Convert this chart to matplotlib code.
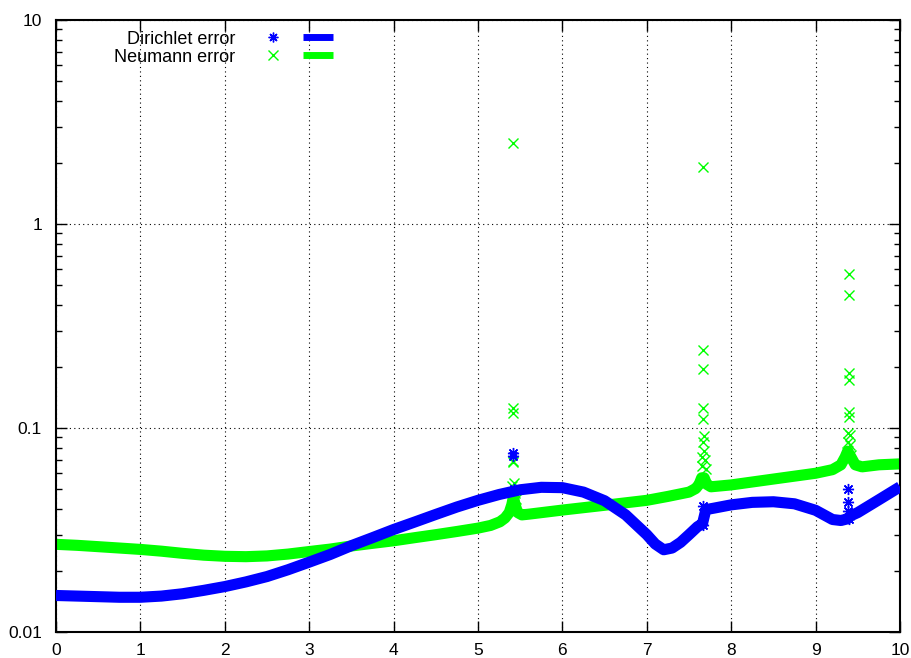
import numpy as np
import matplotlib
matplotlib.use('Agg')
import matplotlib.pyplot as plt

plt.rcParams['font.family'] = ['Liberation Sans', 'DejaVu Sans']

# main bands
dir_x = [0.0, 0.25, 0.5, 0.75, 1.0, 1.25, 1.5, 1.75, 2.0, 2.25, 2.5, 2.75,
         3.0, 3.25, 3.5, 3.75, 4.0, 4.25, 4.5, 4.75, 5.0, 5.25, 5.5, 5.75,
         6.0, 6.25, 6.5, 6.75, 7.0, 7.1, 7.2, 7.3, 7.4, 7.5, 7.6, 7.66,
         7.7, 7.8, 8.0, 8.25, 8.5, 8.75, 9.0, 9.1, 9.2, 9.3, 9.37, 9.42,
         9.5, 9.75, 10.0]
dir_y = [0.0151, 0.0150, 0.0149, 0.0148, 0.0148, 0.0150, 0.0154, 0.0160,
         0.0167, 0.0176, 0.0187, 0.0202, 0.0220, 0.0240, 0.0265, 0.0290,
         0.0318, 0.0346, 0.0377, 0.0410, 0.0442, 0.0472, 0.0498, 0.0512,
         0.0510, 0.0485, 0.0440, 0.0375, 0.0300, 0.0270, 0.0253, 0.0258,
         0.0275, 0.0300, 0.0328, 0.0340, 0.0398, 0.0405, 0.0420, 0.0432,
         0.0435, 0.0425, 0.0395, 0.0375, 0.0356, 0.0352, 0.0358, 0.0372,
         0.0385, 0.0445, 0.0515]

neu_x = [0.0, 0.25, 0.5, 0.75, 1.0, 1.25, 1.5, 1.75, 2.0, 2.25, 2.5, 2.75,
         3.0, 3.25, 3.5, 3.75, 4.0, 4.25, 4.5, 4.75, 5.0, 5.15, 5.26, 5.32,
         5.37, 5.40, 5.42, 5.44, 5.47, 5.52, 5.6, 6.0, 6.5, 7.0, 7.25, 7.5,
         7.58, 7.62, 7.65, 7.68, 7.71, 7.76, 8.0, 8.5, 9.0, 9.2, 9.3, 9.35,
         9.38, 9.42, 9.47, 9.55, 9.75, 10.0]
neu_y = [0.0269, 0.0266, 0.0262, 0.0258, 0.0254, 0.0249, 0.0243, 0.0238,
         0.0235, 0.0234, 0.0236, 0.0241, 0.0248, 0.0255, 0.0264, 0.0272,
         0.0280, 0.0290, 0.0300, 0.0311, 0.0323, 0.0333, 0.0347, 0.0362,
         0.0385, 0.0420, 0.0460, 0.0420, 0.0385, 0.0375, 0.0378, 0.0396,
         0.0418, 0.0442, 0.0462, 0.0485, 0.0505, 0.0530, 0.0570, 0.0570,
         0.0530, 0.0515, 0.0526, 0.0562, 0.0600, 0.0625, 0.0660, 0.0720,
         0.0770, 0.0720, 0.0660, 0.0645, 0.0660, 0.0667]

# isolated points around the three singular spots
dir_sx = [5.42, 5.42, 5.43, 7.67, 7.67, 9.38, 9.38, 9.38, 9.39]
dir_sy = [0.075, 0.073, 0.050, 0.0414, 0.0335, 0.050, 0.0436, 0.0392, 0.036]

neu_sx = [5.42, 5.42, 5.42, 5.42, 5.41, 5.43, 5.40, 5.44, 5.40, 5.45,
          7.67, 7.67, 7.67, 7.67, 7.66, 7.68, 7.66, 7.68, 7.65, 7.69, 7.65, 7.70,
          9.39, 9.39, 9.40, 9.40, 9.39, 9.40, 9.38, 9.41, 9.38, 9.41, 9.37, 9.42]
neu_sy = [2.5, 0.126, 0.118, 0.069, 0.068, 0.054, 0.052, 0.048, 0.046, 0.045,
          1.9, 0.24, 0.195, 0.125, 0.111, 0.0915, 0.085, 0.077, 0.072, 0.070, 0.065, 0.063,
          0.57, 0.45, 0.185, 0.172, 0.12, 0.113, 0.095, 0.092, 0.085, 0.083, 0.076, 0.074]

x_ticks = [0, 1, 2, 3, 4, 5, 6, 7, 8, 9, 10]
y_ticks = [0.01, 0.1, 1, 10]
y_labels = ['0.01', '0.1', '1', '10']

blue = '#0000ff'
green = '#00ff00'
ast = (8, 2, 0)

fig = plt.figure(figsize=(9.12, 6.58), dpi=100)
ax = fig.add_axes([56 / 912, 1 - 632 / 658, 844 / 912, 612 / 658])

ax.plot(neu_x, neu_y, color=green, lw=8, solid_capstyle='butt',
        solid_joinstyle='round', zorder=2)
ax.plot(neu_sx, neu_sy, ls='none', marker='x', ms=7, mew=1, color=green, zorder=3)
ax.plot(dir_x, dir_y, color=blue, lw=8, solid_capstyle='butt',
        solid_joinstyle='round', zorder=4)
ax.plot(dir_sx, dir_sy, ls='none', marker=ast, ms=8, mew=1, color=blue, zorder=5)

ax.set_yscale('log')
ax.set_xlim(0, 10)
ax.set_ylim(0.01, 10)
ax.set_xticks(x_ticks)
ax.set_yticks(y_ticks)
ax.set_yticklabels(y_labels)
ax.grid(True, which='major', color='black', ls=(0, (1, 3)), lw=0.8)
ax.tick_params(which='both', direction='in', top=True, right=True, labelsize=12.5,
               width=1, colors='black')
ax.tick_params(which='major', length=8, pad=8)
ax.tick_params(axis='y', which='major', pad=10)
ax.tick_params(which='minor', length=4)
for s in ax.spines.values():
    s.set_linewidth(1.5)

# key, drawn by hand like gnuplot
tr = ax.transAxes
for i, (lab, col, mk) in enumerate([('Dirichlet error', blue, ast),
                                     ('Neumann error', green, 'x')]):
    yy = 1 - (37 + 18 * i - 20) / 612
    ax.text((235 - 56) / 844, yy - 2 / 612, lab, transform=tr, ha='right',
            va='center', fontsize=13)
    ax.plot([(273 - 56) / 844], [yy], transform=tr, marker=mk, ms=7, mew=1,
            color=col, ls='none', clip_on=False)
    ax.plot([(303 - 56) / 844, (333 - 56) / 844], [yy, yy], transform=tr,
            color=col, lw=5, solid_capstyle='butt', clip_on=False)

fig.savefig('out.png', dpi=100)
